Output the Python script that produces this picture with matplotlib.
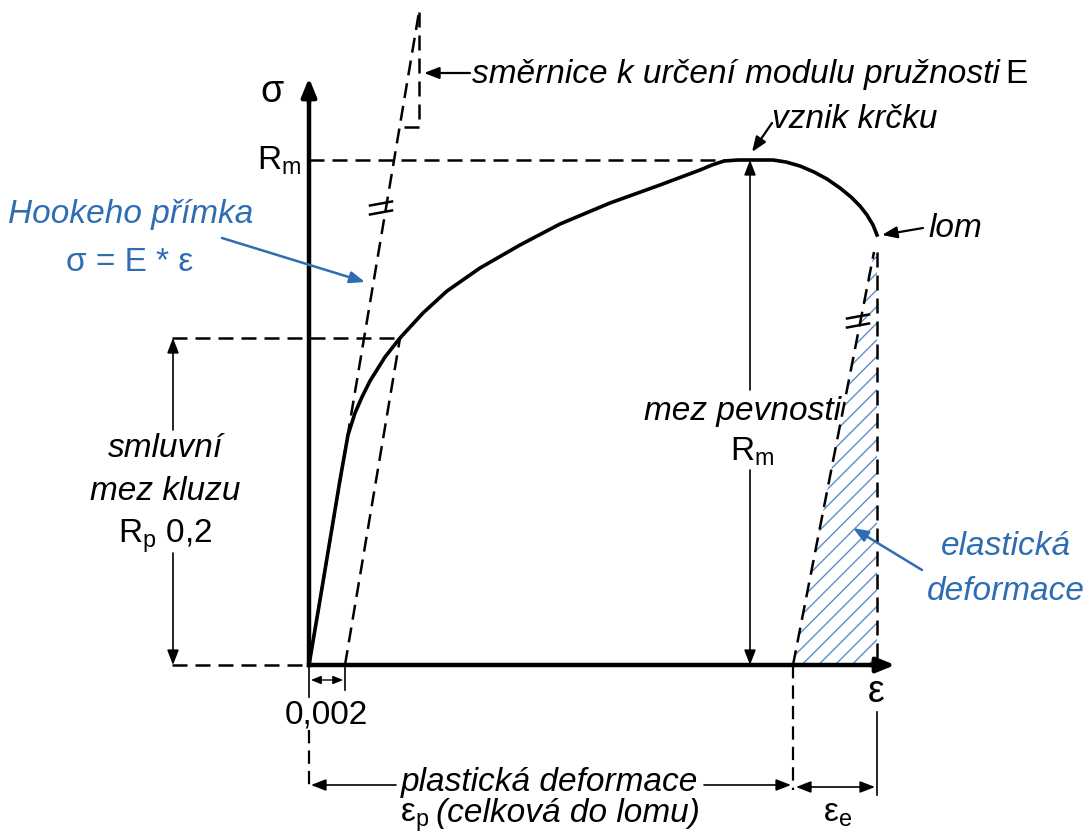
import numpy as np
import matplotlib.pyplot as plt
from matplotlib.patches import Polygon

plt.rcParams['font.family'] = ['Liberation Sans', 'DejaVu Sans']
plt.rcParams['mathtext.fontset'] = 'custom'
plt.rcParams['mathtext.rm'] = 'Liberation Sans'
plt.rcParams['mathtext.it'] = 'Liberation Sans:italic'
plt.rcParams['hatch.linewidth'] = 1.0

# --- data (diagram units = pixels of the 1088x834 sheet, y grows downward) ---
origin = (309, 665)
sigma_top = 78
eps_end = 895
Rm_level = 160
Rp_level = 338
offset_x = 345            # 0,002 offset of the parallel line
fracture_x = 877
plastic_end_x = 793

curve_x = [309, 320, 330, 340, 348, 355, 362, 370, 385, 400, 423, 447, 480, 520,
           560, 610, 660, 700, 712, 724, 738, 773, 786, 800, 814, 827,
           840, 851, 860, 867, 873, 877]
curve_y = [665, 600, 540, 480, 435, 413, 397, 381, 357, 338, 313, 291, 268, 245,
           224, 203, 185, 170, 165, 161, 160, 160, 162, 166, 172, 179,
           188, 197, 206, 215, 225, 235]

hooke_x = [309, 419]
hooke_y = [665, 12]
offset_line_x = [345, 400]
offset_line_y = [665, 338]
unload_x = [793, 874]
unload_y = [665, 252]

BLUE = '#2f6db3'
HATCH_BLUE = '#5b8fc7'
DASH = (6, 3.2)
FS = 24

fig = plt.figure(figsize=(10.88, 8.34), dpi=100)
ax = fig.add_axes([0, 0, 1, 1])
ax.set_xlim(0, 1088)
ax.set_ylim(834, 0)
ax.axis('off')


def dashed(xs, ys, lw=1.8):
    ax.plot(xs, ys, color='black', lw=lw, dashes=DASH, solid_capstyle='butt')


def arrow(start, end, lw=1.2, color='black', hl=0.9, hw=0.35, both=False):
    style = '<|-|>' if both else '-|>'
    ax.annotate('', xy=end, xytext=start,
                arrowprops=dict(arrowstyle=f'{style},head_length={hl},head_width={hw}',
                                lw=lw, color=color, shrinkA=0, shrinkB=0))


# hatched elastic region
ax.add_patch(Polygon([(unload_x[0], unload_y[0]), (unload_x[1], unload_y[1]),
                      (fracture_x, unload_y[1]), (fracture_x, origin[1])],
                     closed=True, facecolor='none', edgecolor=HATCH_BLUE,
                     hatch='//', lw=0))

# axes
ax.plot([origin[0], origin[0]], [origin[1], sigma_top + 20], color='black', lw=3.2)
arrow((origin[0], sigma_top + 25), (origin[0], sigma_top), lw=3.2, hl=1.1, hw=0.45)
ax.plot([origin[0], eps_end - 18], [origin[1], origin[1]], color='black', lw=3.2)
arrow((eps_end - 25, origin[1]), (eps_end, origin[1]), lw=3.2, hl=1.1, hw=0.45)

# dashed construction lines
dashed([origin[0], 724], [Rm_level, Rm_level])
dashed([172, 400], [Rp_level, Rp_level])
dashed([172, origin[0]], [origin[1], origin[1]])
dashed(hooke_x, hooke_y)
dashed([hooke_x[1], hooke_x[1], 398], [hooke_y[1], 127, 127])
dashed(offset_line_x, offset_line_y)
dashed(unload_x, unload_y)
dashed([fracture_x, fracture_x], [unload_y[1], origin[1]])
dashed([origin[0], origin[0]], [730, 790], lw=1.6)
dashed([plastic_end_x, plastic_end_x], [origin[1], 790], lw=1.6)

# stress-strain curve
ax.plot(curve_x, curve_y, color='black', lw=2.6, solid_joinstyle='round')

# parallel marks
for (cx, cy) in [(381, 208), (858, 321)]:
    for dy in (-4.5, 4.5):
        ax.plot([cx - 11, cx + 11], [cy + dy + 2, cy + dy - 2], color='black', lw=1.8)

# dimension arrows
arrow((173, 430), (173, Rp_level))
arrow((173, 553), (173, origin[1]))
arrow((750, 390), (750, Rm_level))
arrow((750, 470), (750, origin[1]))
ax.plot([origin[0], origin[0]], [origin[1], 697], color='black', lw=1.2)
ax.plot([offset_x, offset_x], [origin[1], 690], color='black', lw=1.2)
arrow((311, 680), (343, 680), lw=1.0, hl=0.6, hw=0.25, both=True)
arrow((396, 785), (311, 785))
arrow((704, 785), (791, 785))
ax.plot([fracture_x, fracture_x], [712, 795], color='black', lw=1.2)
arrow((796, 787), (875, 787), both=True)

# pointer arrows
arrow((470, 73), (424, 73), lw=1.6)
arrow((772, 123), (752, 152), lw=1.6)
arrow((923, 228), (882, 235), lw=1.6)
arrow((222, 238), (365, 282), lw=1.8, color=BLUE)
arrow((922, 570), (853, 528), lw=1.8, color=BLUE)

# texts
renderer = fig.canvas.get_renderer()


def after(t, s, y, gap=4, **kw):
    bb = t.get_window_extent(renderer)
    x1 = ax.transData.inverted().transform((bb.x1, bb.y0))[0]
    return ax.text(x1 + gap, y, s, va='baseline', **kw)


ax.text(272, 102, 'σ', fontsize=27, ha='center', va='baseline')
ax.text(876, 702, 'ε', fontsize=27, ha='center', va='baseline')
ax.text(301, 170, r'R$_\mathrm{m}$', fontsize=FS, ha='right', va='baseline')

t = ax.text(472, 83, 'směrnice k určení modulu pružnosti', fontsize=FS,
            style='italic', va='baseline')
after(t, 'E', 83, gap=6, fontsize=FS)
ax.text(772, 128, 'vznik krčku', fontsize=FS, style='italic', va='baseline')
ax.text(928, 237, 'lom', fontsize=FS, style='italic', va='baseline')

ax.text(131, 223, 'Hookeho přímka', fontsize=FS, style='italic', color=BLUE,
        ha='center', va='baseline')
ax.text(130, 271, 'σ = E * ε', fontsize=FS, color=BLUE, ha='center', va='baseline')

ax.text(165, 457, 'smluvní', fontsize=FS, style='italic', ha='center', va='baseline')
ax.text(165, 500, 'mez kluzu', fontsize=FS, style='italic', ha='center', va='baseline')
ax.text(165, 543, r'R$_\mathrm{p}$ 0,2', fontsize=FS, ha='center', va='baseline')

ax.text(742, 420, 'mez pevnosti', fontsize=FS, style='italic', ha='center', va='baseline')
ax.text(752, 461, r'R$_\mathrm{m}$', fontsize=FS, ha='center', va='baseline')

ax.text(1006, 555, 'elastická', fontsize=FS, style='italic', color=BLUE,
        ha='center', va='baseline')
ax.text(1006, 600, 'deformace', fontsize=FS, style='italic', color=BLUE,
        ha='center', va='baseline')

ax.text(326, 724, '0,002', fontsize=FS, ha='center', va='baseline')
ax.text(550, 791, 'plastická deformace', fontsize=FS, style='italic',
        ha='center', va='baseline')
t = ax.text(400, 822, r'ε$_\mathrm{p}$', fontsize=FS, va='baseline')
after(t, '(celková do lomu)', 822, gap=7, fontsize=FS, style='italic')
ax.text(838, 822, r'ε$_\mathrm{e}$', fontsize=FS, ha='center', va='baseline')

fig.savefig('out.png', dpi=100)
